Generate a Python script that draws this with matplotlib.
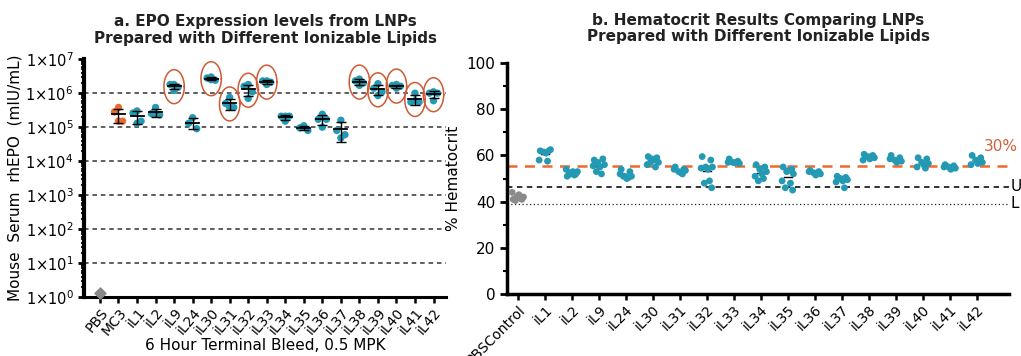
import numpy as np
import matplotlib
matplotlib.use('Agg')
import matplotlib.pyplot as plt
from matplotlib.ticker import FixedLocator, FixedFormatter, NullFormatter

# ---- panel a data: EPO expression (mIU/mL), 6 h terminal bleed ----
epo_groups = ['PBS', 'MC3', 'iL1', 'iL2', 'iL9', 'iL24', 'iL30', 'iL31', 'iL32', 'iL33',
              'iL34', 'iL35', 'iL36', 'iL37', 'iL38', 'iL39', 'iL40', 'iL41', 'iL42']
epo_values = [
    [1.3],
    [3.8e5, 2.8e5, 1.5e5, 1.5e5],
    [3.0e5, 2.6e5, 1.5e5, 1.3e5],
    [3.8e5, 2.5e5, 2.3e5, 2.4e5],
    [1.8e6, 1.8e6, 1.5e6, 1.2e6],
    [1.9e5, 1.3e5, 9.0e4],
    [3.0e6, 2.8e6, 2.4e6, 2.5e6],
    [7.5e5, 5.0e5, 3.8e5, 3.8e5],
    [1.8e6, 1.6e6, 1.1e6, 7.0e5],
    [2.3e6, 2.3e6, 2.1e6, 1.8e6],
    [2.1e5, 2.1e5, 2.1e5, 1.5e5],
    [1.1e5, 9.5e4, 8.0e4, 1.0e5],
    [2.4e5, 1.7e5, 1.7e5, 1.0e5],
    [1.6e5, 8.0e4, 6.0e4, 4.8e4],
    [2.6e6, 2.3e6, 2.0e6, 1.7e6],
    [1.9e6, 1.4e6, 1.1e6, 8.5e5],
    [1.8e6, 1.7e6, 1.6e6, 1.4e6],
    [1.0e6, 5.5e5, 5.5e5, 6.0e5],
    [1.1e6, 1.0e6, 1.0e6, 6.0e5],
]
circled = ['iL9', 'iL30', 'iL31', 'iL32', 'iL33', 'iL38', 'iL39', 'iL40', 'iL41', 'iL42']

# ---- panel b data: hematocrit (%) ----
hct_groups = ['PBSControl', 'iL1', 'iL2', 'iL9', 'iL24', 'iL30', 'iL31', 'iL32', 'iL33',
              'iL34', 'iL35', 'iL36', 'iL37', 'iL38', 'iL39', 'iL40', 'iL41', 'iL42']
hct_values = [
    [41, 41, 42, 42, 43, 44, 41.5, 40.5],
    [62, 62, 61.5, 62.5, 61, 58, 57.5],
    [51, 52, 52, 53, 53, 54, 51.5, 52.5],
    [58, 58.5, 57, 56, 55, 55.5, 52, 53],
    [54, 53, 51, 51, 50, 52, 50.5, 51],
    [59.5, 59, 58.5, 57, 58, 56, 55, 57],
    [55, 54, 53, 53.5, 52.5, 54, 52],
    [59.5, 58, 55, 55, 54, 54.5, 49, 48, 46],
    [58.5, 57.5, 57, 56.5, 56.8, 57],
    [56, 55, 54, 53, 52, 51, 50, 49],
    [55, 54, 53, 52, 53.5, 49, 48, 46, 45],
    [53.5, 53, 52.5, 52, 51.5, 53],
    [51, 50.5, 50, 49.5, 49, 48.5, 46, 50],
    [60.5, 60, 59.5, 59, 58.5, 58, 59.5],
    [60, 59, 58, 57.5, 57, 58.5],
    [59, 58.5, 57, 56.5, 56, 55, 54.5],
    [56, 55.5, 55, 54.5, 54, 55],
    [60, 59, 58, 57, 56.5, 56],
]
ref_30 = 55.6
ref_upper = 46.5
ref_lower = 39.0

teal = '#2399b3'
orange = '#ee6a2c'
ring = '#cf5a34'
gray = '#8a8a8a'

plt.rcParams['font.family'] = 'DejaVu Sans'

fig = plt.figure(figsize=(10.21, 3.56), dpi=100)
ax1 = fig.add_axes([0.0823, 0.1657, 0.355, 0.668])
ax2 = fig.add_axes([0.4966, 0.174, 0.492, 0.649])

# jitter patterns (horizontal placement only)
off4 = [0.0, -0.22, 0.22, 0.0]
off9 = [-0.18, 0.14, -0.05, 0.2, 0.03, -0.22, 0.09, -0.1, 0.17]

# ---------- panel a ----------
for i, (g, vals) in enumerate(zip(epo_groups, epo_values)):
    vals = np.array(vals)
    xs = i + np.array(off4[:len(vals)]) if len(vals) > 1 else np.array([i])
    if g == 'PBS':
        ax1.scatter(xs, vals, marker='D', s=32, color=gray, zorder=3, clip_on=False)
        continue
    col = orange if g == 'MC3' else teal
    ax1.scatter(xs, vals, s=28, color=col, zorder=3, edgecolors='none')
    m = vals.mean()
    sd = vals.std(ddof=1)
    ax1.plot([i - 0.35, i + 0.35], [m, m], color='black', lw=1.3, zorder=4)
    ax1.errorbar(i, m, yerr=[[min(sd, m * 0.9)], [sd]], fmt='none', ecolor='black',
                 elinewidth=1.0, capsize=3.5, capthick=1.0, zorder=4)
    if g in circled:
        lc = np.log10(vals).mean()
        t = np.linspace(0, 2 * np.pi, 100)
        ax1.plot(i + 0.55 * np.cos(t), 10 ** (lc + 0.5 * np.sin(t)), color=ring, lw=1.1, zorder=5)

ax1.set_yscale('log')
ax1.set_ylim(1, 1e7)
ax1.set_xlim(-0.86, 18.7)
for e in range(1, 7):
    ax1.axhline(10 ** e, color='#333333', ls=(0, (3, 2.5)), lw=1.1, zorder=1)
ax1.yaxis.set_major_locator(FixedLocator([10 ** e for e in range(8)]))
ax1.yaxis.set_major_formatter(FixedFormatter([r'$1{\times}10^{%d}$' % e for e in range(8)]))
ax1.yaxis.set_minor_formatter(NullFormatter())
ax1.tick_params(axis='y', labelsize=10.5, width=2, length=4)
ax1.tick_params(axis='y', which='minor', width=1.2, length=2.5)
ax1.set_xticks(range(len(epo_groups)))
ax1.set_xticklabels(epo_groups, rotation=50, ha='right', rotation_mode='anchor', fontsize=10)
ax1.tick_params(axis='x', width=1.8, length=4, pad=2)
ax1.spines['top'].set_visible(False)
ax1.spines['right'].set_visible(False)
ax1.spines['left'].set_linewidth(3)
ax1.spines['bottom'].set_linewidth(2.2)
ax1.set_ylabel('Mouse  Serum  rhEPO  (mIU/mL)', fontsize=11, labelpad=2)
fig.text(265 / 1021, 1 - 345 / 356, '6 Hour Terminal Bleed, 0.5 MPK', fontsize=11,
         ha='center', va='center')
ax1.set_title('a. EPO Expression levels from LNPs\nPrepared with Different Ionizable Lipids',
              fontsize=11, fontweight='bold', pad=12, linespacing=1.1, color='#222222')

# ---------- panel b ----------
for i, (g, vals) in enumerate(zip(hct_groups, hct_values)):
    vals = np.array(vals)
    xs = i + np.array(off9[:len(vals)])
    col = gray if i == 0 else teal
    ax2.scatter(xs, vals, s=24, color=col, zorder=3, edgecolors='none')
    m = vals.mean()
    ax2.plot([i - 0.15, i + 0.15], [m, m], color='black', lw=1.0, zorder=2)

ax2.axhline(ref_30, color=orange, ls=(0, (4, 3)), lw=1.8, zorder=1)
ax2.axhline(ref_upper, color='#222222', ls=(0, (3, 2.5)), lw=1.3, zorder=1)
ax2.axhline(ref_lower, color='#222222', ls=(0, (1, 2)), lw=0.9, zorder=1)
ax2.text(17.25, 64, '30%', color='#d0603a', fontsize=11, va='center', ha='left', clip_on=False)
ax2.text(18.25, ref_upper, 'U', color='black', fontsize=11, va='center', ha='left', clip_on=False)
ax2.text(18.25, ref_lower, 'L', color='black', fontsize=11, va='center', ha='left', clip_on=False)

ax2.set_ylim(0, 100)
ax2.set_xlim(-0.41, 18.2)
ax2.set_yticks(range(0, 101, 20))
ax2.set_yticks(range(10, 100, 20), minor=True)
ax2.tick_params(axis='y', labelsize=11, width=2, length=5)
ax2.tick_params(axis='y', which='minor', width=1.5, length=3)
ax2.set_xticks(range(len(hct_groups)))
ax2.set_xticklabels(hct_groups, rotation=45, ha='right', rotation_mode='anchor', fontsize=10)
ax2.tick_params(axis='x', width=1.8, length=4, pad=2)
ax2.spines['top'].set_visible(False)
ax2.spines['right'].set_visible(False)
ax2.spines['left'].set_linewidth(2.5)
ax2.spines['bottom'].set_linewidth(2.5)
ax2.set_ylabel('% Hematocrit', fontsize=11, labelpad=4)
ax2.set_title('b. Hematocrit Results Comparing LNPs\nPrepared with Different Ionizable Lipids',
              fontsize=11, fontweight='bold', pad=16, linespacing=1.1, color='#222222')

fig.savefig('out.png', dpi=100)
